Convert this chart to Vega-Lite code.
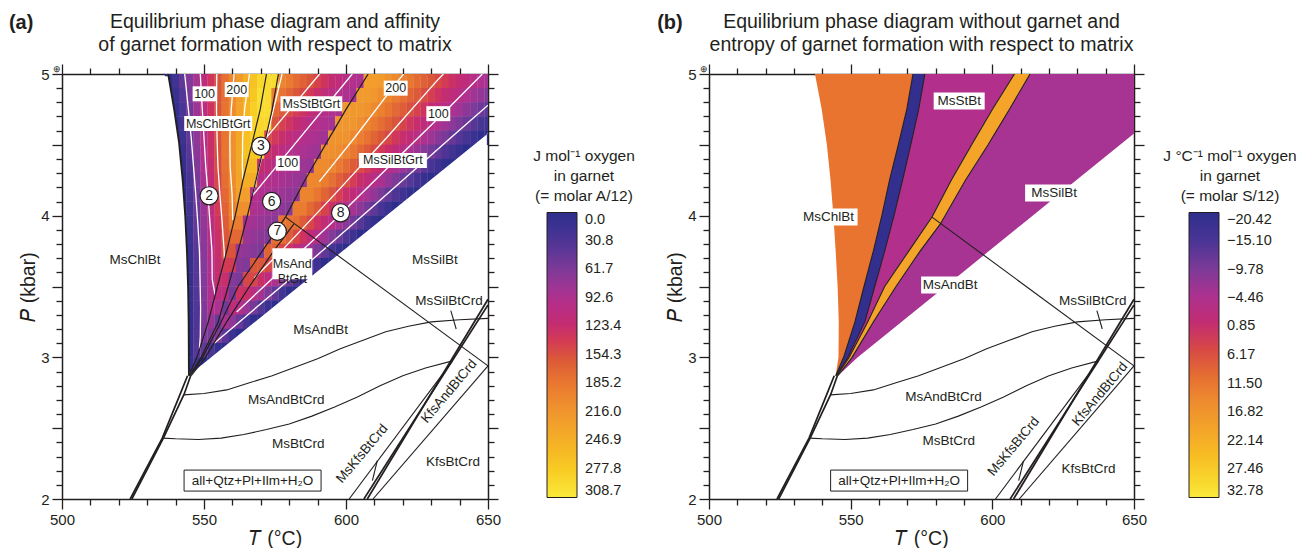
{
  "$schema": "https://vega.github.io/schema/vega-lite/v6.json",
  "padding": {"left": 8, "top": 12, "right": 2, "bottom": 0},
  "config": {
    "font": "Liberation Sans",
    "view": {"stroke": null},
    "axis": {"grid": false, "zindex": 1, "domainColor": "#231f20", "domainWidth": 1.5, "tickColor": "#231f20", "tickWidth": 1.3, "labelColor": "#231f20", "titleColor": "#231f20", "labelFont": "Liberation Sans", "titleFont": "Liberation Sans", "titleFontWeight": "normal", "labelFontSize": 15, "titleFontSize": 19.5, "labelFlush": false},
    "legend": {"labelFont": "Liberation Sans", "titleFont": "Liberation Sans", "labelColor": "#231f20", "titleColor": "#231f20"},
    "title": {"font": "Liberation Sans", "fontSize": 19.5, "fontWeight": "normal", "color": "#231f20", "lineHeight": 23, "offset": -43, "anchor": "middle"},
    "text": {"color": "#231f20", "font": "Liberation Sans"}
  },
  "datasets": {
    "heatA": [
      {"T":537.5,"P":4.95,"A":0},{"T":540,"P":4.95,"A":20},{"T":542.5,"P":4.95,"A":42},{"T":545,"P":4.95,"A":65},{"T":547.5,"P":4.95,"A":87},{"T":550,"P":4.95,"A":110},{"T":552.5,"P":4.95,"A":133},{"T":555,"P":4.95,"A":155},{"T":557.5,"P":4.95,"A":178},{"T":560,"P":4.95,"A":200},{"T":562.5,"P":4.95,"A":223},{"T":565,"P":4.95,"A":245},{"T":567.5,"P":4.95,"A":268},{"T":570,"P":4.95,"A":290},{"T":572.5,"P":4.95,"A":295},{"T":575,"P":4.95,"A":295},{"T":577.5,"P":4.95,"A":198},{"T":580,"P":4.95,"A":187},{"T":582.5,"P":4.95,"A":176},{"T":585,"P":4.95,"A":166},{"T":587.5,"P":4.95,"A":155},{"T":590,"P":4.95,"A":144},{"T":592.5,"P":4.95,"A":133},{"T":595,"P":4.95,"A":122},{"T":597.5,"P":4.95,"A":112},{"T":600,"P":4.95,"A":101},{"T":602.5,"P":4.95,"A":96},{"T":605,"P":4.95,"A":91},{"T":607.5,"P":4.95,"A":225},{"T":610,"P":4.95,"A":225},{"T":612.5,"P":4.95,"A":221},{"T":615,"P":4.95,"A":212},{"T":617.5,"P":4.95,"A":203},{"T":620,"P":4.95,"A":193},{"T":622.5,"P":4.95,"A":184},{"T":625,"P":4.95,"A":175},{"T":627.5,"P":4.95,"A":166},{"T":630,"P":4.95,"A":157},{"T":632.5,"P":4.95,"A":148},{"T":635,"P":4.95,"A":138},{"T":637.5,"P":4.95,"A":129},{"T":640,"P":4.95,"A":120},{"T":642.5,"P":4.95,"A":111},{"T":645,"P":4.95,"A":102},{"T":647.5,"P":4.95,"A":93},{"T":650,"P":4.95,"A":84},
      {"T":537.5,"P":4.85,"A":0},{"T":540,"P":4.85,"A":12},{"T":542.5,"P":4.85,"A":36},{"T":545,"P":4.85,"A":60},{"T":547.5,"P":4.85,"A":84},{"T":550,"P":4.85,"A":108},{"T":552.5,"P":4.85,"A":132},{"T":555,"P":4.85,"A":155},{"T":557.5,"P":4.85,"A":179},{"T":560,"P":4.85,"A":203},{"T":562.5,"P":4.85,"A":227},{"T":565,"P":4.85,"A":251},{"T":567.5,"P":4.85,"A":274},{"T":570,"P":4.85,"A":298},{"T":572.5,"P":4.85,"A":295},{"T":575,"P":4.85,"A":191},{"T":577.5,"P":4.85,"A":180},{"T":580,"P":4.85,"A":169},{"T":582.5,"P":4.85,"A":158},{"T":585,"P":4.85,"A":148},{"T":587.5,"P":4.85,"A":137},{"T":590,"P":4.85,"A":126},{"T":592.5,"P":4.85,"A":115},{"T":595,"P":4.85,"A":104},{"T":597.5,"P":4.85,"A":97},{"T":600,"P":4.85,"A":92},{"T":602.5,"P":4.85,"A":88},{"T":605,"P":4.85,"A":221},{"T":607.5,"P":4.85,"A":221},{"T":610,"P":4.85,"A":217},{"T":612.5,"P":4.85,"A":208},{"T":615,"P":4.85,"A":198},{"T":617.5,"P":4.85,"A":188},{"T":620,"P":4.85,"A":179},{"T":622.5,"P":4.85,"A":169},{"T":625,"P":4.85,"A":160},{"T":627.5,"P":4.85,"A":150},{"T":630,"P":4.85,"A":141},{"T":632.5,"P":4.85,"A":131},{"T":635,"P":4.85,"A":121},{"T":637.5,"P":4.85,"A":112},{"T":640,"P":4.85,"A":102},{"T":642.5,"P":4.85,"A":93},{"T":645,"P":4.85,"A":83},{"T":647.5,"P":4.85,"A":74},{"T":650,"P":4.85,"A":64},
      {"T":540,"P":4.75,"A":5},{"T":542.5,"P":4.75,"A":30},{"T":545,"P":4.75,"A":55},{"T":547.5,"P":4.75,"A":81},{"T":550,"P":4.75,"A":106},{"T":552.5,"P":4.75,"A":131},{"T":555,"P":4.75,"A":156},{"T":557.5,"P":4.75,"A":181},{"T":560,"P":4.75,"A":206},{"T":562.5,"P":4.75,"A":232},{"T":565,"P":4.75,"A":257},{"T":567.5,"P":4.75,"A":282},{"T":570,"P":4.75,"A":295},{"T":572.5,"P":4.75,"A":295},{"T":575,"P":4.75,"A":173},{"T":577.5,"P":4.75,"A":162},{"T":580,"P":4.75,"A":151},{"T":582.5,"P":4.75,"A":140},{"T":585,"P":4.75,"A":130},{"T":587.5,"P":4.75,"A":119},{"T":590,"P":4.75,"A":108},{"T":592.5,"P":4.75,"A":99},{"T":595,"P":4.75,"A":94},{"T":597.5,"P":4.75,"A":89},{"T":600,"P":4.75,"A":219},{"T":602.5,"P":4.75,"A":219},{"T":605,"P":4.75,"A":219},{"T":607.5,"P":4.75,"A":213},{"T":610,"P":4.75,"A":203},{"T":612.5,"P":4.75,"A":193},{"T":615,"P":4.75,"A":183},{"T":617.5,"P":4.75,"A":173},{"T":620,"P":4.75,"A":163},{"T":622.5,"P":4.75,"A":153},{"T":625,"P":4.75,"A":143},{"T":627.5,"P":4.75,"A":133},{"T":630,"P":4.75,"A":122},{"T":632.5,"P":4.75,"A":112},{"T":635,"P":4.75,"A":102},{"T":637.5,"P":4.75,"A":92},{"T":640,"P":4.75,"A":82},{"T":642.5,"P":4.75,"A":72},{"T":645,"P":4.75,"A":62},{"T":647.5,"P":4.75,"A":52},{"T":650,"P":4.75,"A":42},
      {"T":540,"P":4.65,"A":2},{"T":542.5,"P":4.65,"A":24},{"T":545,"P":4.65,"A":50},{"T":547.5,"P":4.65,"A":77},{"T":550,"P":4.65,"A":103},{"T":552.5,"P":4.65,"A":129},{"T":555,"P":4.65,"A":155},{"T":557.5,"P":4.65,"A":181},{"T":560,"P":4.65,"A":208},{"T":562.5,"P":4.65,"A":234},{"T":565,"P":4.65,"A":260},{"T":567.5,"P":4.65,"A":286},{"T":570,"P":4.65,"A":290},{"T":572.5,"P":4.65,"A":290},{"T":575,"P":4.65,"A":155},{"T":577.5,"P":4.65,"A":144},{"T":580,"P":4.65,"A":133},{"T":582.5,"P":4.65,"A":122},{"T":585,"P":4.65,"A":112},{"T":587.5,"P":4.65,"A":101},{"T":590,"P":4.65,"A":96},{"T":592.5,"P":4.65,"A":91},{"T":595,"P":4.65,"A":86},{"T":597.5,"P":4.65,"A":216},{"T":600,"P":4.65,"A":216},{"T":602.5,"P":4.65,"A":216},{"T":605,"P":4.65,"A":208},{"T":607.5,"P":4.65,"A":197},{"T":610,"P":4.65,"A":187},{"T":612.5,"P":4.65,"A":176},{"T":615,"P":4.65,"A":166},{"T":617.5,"P":4.65,"A":155},{"T":620,"P":4.65,"A":145},{"T":622.5,"P":4.65,"A":134},{"T":625,"P":4.65,"A":124},{"T":627.5,"P":4.65,"A":113},{"T":630,"P":4.65,"A":103},{"T":632.5,"P":4.65,"A":92},{"T":635,"P":4.65,"A":81},{"T":637.5,"P":4.65,"A":71},{"T":640,"P":4.65,"A":60},{"T":642.5,"P":4.65,"A":50},{"T":645,"P":4.65,"A":39},{"T":647.5,"P":4.65,"A":29},{"T":650,"P":4.65,"A":18},
      {"T":540,"P":4.55,"A":0},{"T":542.5,"P":4.55,"A":17},{"T":545,"P":4.55,"A":44},{"T":547.5,"P":4.55,"A":72},{"T":550,"P":4.55,"A":100},{"T":552.5,"P":4.55,"A":127},{"T":555,"P":4.55,"A":155},{"T":557.5,"P":4.55,"A":182},{"T":560,"P":4.55,"A":210},{"T":562.5,"P":4.55,"A":238},{"T":565,"P":4.55,"A":265},{"T":567.5,"P":4.55,"A":285},{"T":570,"P":4.55,"A":285},{"T":572.5,"P":4.55,"A":148},{"T":575,"P":4.55,"A":137},{"T":577.5,"P":4.55,"A":126},{"T":580,"P":4.55,"A":115},{"T":582.5,"P":4.55,"A":104},{"T":585,"P":4.55,"A":97},{"T":587.5,"P":4.55,"A":92},{"T":590,"P":4.55,"A":88},{"T":592.5,"P":4.55,"A":83},{"T":595,"P":4.55,"A":213},{"T":597.5,"P":4.55,"A":213},{"T":600,"P":4.55,"A":213},{"T":602.5,"P":4.55,"A":202},{"T":605,"P":4.55,"A":191},{"T":607.5,"P":4.55,"A":180},{"T":610,"P":4.55,"A":169},{"T":612.5,"P":4.55,"A":158},{"T":615,"P":4.55,"A":147},{"T":617.5,"P":4.55,"A":136},{"T":620,"P":4.55,"A":125},{"T":622.5,"P":4.55,"A":114},{"T":625,"P":4.55,"A":103},{"T":627.5,"P":4.55,"A":92},{"T":630,"P":4.55,"A":81},{"T":632.5,"P":4.55,"A":69},{"T":635,"P":4.55,"A":58},{"T":637.5,"P":4.55,"A":47},{"T":640,"P":4.55,"A":36},{"T":642.5,"P":4.55,"A":25},{"T":645,"P":4.55,"A":14},{"T":647.5,"P":4.55,"A":3},{"T":650,"P":4.55,"A":0},
      {"T":542.5,"P":4.45,"A":11},{"T":545,"P":4.45,"A":40},{"T":547.5,"P":4.45,"A":69},{"T":550,"P":4.45,"A":97},{"T":552.5,"P":4.45,"A":126},{"T":555,"P":4.45,"A":154},{"T":557.5,"P":4.45,"A":183},{"T":560,"P":4.45,"A":211},{"T":562.5,"P":4.45,"A":240},{"T":565,"P":4.45,"A":268},{"T":567.5,"P":4.45,"A":275},{"T":570,"P":4.45,"A":275},{"T":572.5,"P":4.45,"A":130},{"T":575,"P":4.45,"A":119},{"T":577.5,"P":4.45,"A":108},{"T":580,"P":4.45,"A":99},{"T":582.5,"P":4.45,"A":94},{"T":585,"P":4.45,"A":89},{"T":587.5,"P":4.45,"A":84},{"T":590,"P":4.45,"A":80},{"T":592.5,"P":4.45,"A":210},{"T":595,"P":4.45,"A":210},{"T":597.5,"P":4.45,"A":207},{"T":600,"P":4.45,"A":195},{"T":602.5,"P":4.45,"A":184},{"T":605,"P":4.45,"A":172},{"T":607.5,"P":4.45,"A":160},{"T":610,"P":4.45,"A":149},{"T":612.5,"P":4.45,"A":137},{"T":615,"P":4.45,"A":126},{"T":617.5,"P":4.45,"A":114},{"T":620,"P":4.45,"A":102},{"T":622.5,"P":4.45,"A":91},{"T":625,"P":4.45,"A":79},{"T":627.5,"P":4.45,"A":67},{"T":630,"P":4.45,"A":56},{"T":632.5,"P":4.45,"A":44},{"T":635,"P":4.45,"A":33},{"T":637.5,"P":4.45,"A":21},{"T":640,"P":4.45,"A":9},{"T":642.5,"P":4.45,"A":0},{"T":645,"P":4.45,"A":0},
      {"T":542.5,"P":4.35,"A":6},{"T":545,"P":4.35,"A":35},{"T":547.5,"P":4.35,"A":64},{"T":550,"P":4.35,"A":93},{"T":552.5,"P":4.35,"A":122},{"T":555,"P":4.35,"A":151},{"T":557.5,"P":4.35,"A":180},{"T":560,"P":4.35,"A":209},{"T":562.5,"P":4.35,"A":238},{"T":565,"P":4.35,"A":260},{"T":567.5,"P":4.35,"A":260},{"T":570,"P":4.35,"A":122},{"T":572.5,"P":4.35,"A":112},{"T":575,"P":4.35,"A":101},{"T":577.5,"P":4.35,"A":96},{"T":580,"P":4.35,"A":91},{"T":582.5,"P":4.35,"A":86},{"T":585,"P":4.35,"A":81},{"T":587.5,"P":4.35,"A":76},{"T":590,"P":4.35,"A":205},{"T":592.5,"P":4.35,"A":205},{"T":595,"P":4.35,"A":199},{"T":597.5,"P":4.35,"A":187},{"T":600,"P":4.35,"A":175},{"T":602.5,"P":4.35,"A":162},{"T":605,"P":4.35,"A":150},{"T":607.5,"P":4.35,"A":138},{"T":610,"P":4.35,"A":126},{"T":612.5,"P":4.35,"A":114},{"T":615,"P":4.35,"A":101},{"T":617.5,"P":4.35,"A":89},{"T":620,"P":4.35,"A":77},{"T":622.5,"P":4.35,"A":65},{"T":625,"P":4.35,"A":53},{"T":627.5,"P":4.35,"A":40},{"T":630,"P":4.35,"A":28},{"T":632.5,"P":4.35,"A":16},{"T":635,"P":4.35,"A":4},{"T":637.5,"P":4.35,"A":0},{"T":640,"P":4.35,"A":0},
      {"T":542.5,"P":4.25,"A":2},{"T":545,"P":4.25,"A":29},{"T":547.5,"P":4.25,"A":59},{"T":550,"P":4.25,"A":88},{"T":552.5,"P":4.25,"A":118},{"T":555,"P":4.25,"A":147},{"T":557.5,"P":4.25,"A":177},{"T":560,"P":4.25,"A":206},{"T":562.5,"P":4.25,"A":236},{"T":565,"P":4.25,"A":245},{"T":567.5,"P":4.25,"A":245},{"T":570,"P":4.25,"A":104},{"T":572.5,"P":4.25,"A":97},{"T":575,"P":4.25,"A":92},{"T":577.5,"P":4.25,"A":88},{"T":580,"P":4.25,"A":83},{"T":582.5,"P":4.25,"A":78},{"T":585,"P":4.25,"A":73},{"T":587.5,"P":4.25,"A":202},{"T":590,"P":4.25,"A":202},{"T":592.5,"P":4.25,"A":191},{"T":595,"P":4.25,"A":178},{"T":597.5,"P":4.25,"A":165},{"T":600,"P":4.25,"A":153},{"T":602.5,"P":4.25,"A":140},{"T":605,"P":4.25,"A":127},{"T":607.5,"P":4.25,"A":114},{"T":610,"P":4.25,"A":101},{"T":612.5,"P":4.25,"A":88},{"T":615,"P":4.25,"A":75},{"T":617.5,"P":4.25,"A":62},{"T":620,"P":4.25,"A":49},{"T":622.5,"P":4.25,"A":37},{"T":625,"P":4.25,"A":24},{"T":627.5,"P":4.25,"A":11},{"T":630,"P":4.25,"A":0},{"T":632.5,"P":4.25,"A":0},
      {"T":542.5,"P":4.15,"A":0},{"T":545,"P":4.15,"A":25},{"T":547.5,"P":4.15,"A":54},{"T":550,"P":4.15,"A":84},{"T":552.5,"P":4.15,"A":113},{"T":555,"P":4.15,"A":143},{"T":557.5,"P":4.15,"A":172},{"T":560,"P":4.15,"A":201},{"T":562.5,"P":4.15,"A":231},{"T":565,"P":4.15,"A":225},{"T":567.5,"P":4.15,"A":99},{"T":570,"P":4.15,"A":94},{"T":572.5,"P":4.15,"A":89},{"T":575,"P":4.15,"A":84},{"T":577.5,"P":4.15,"A":80},{"T":580,"P":4.15,"A":75},{"T":582.5,"P":4.15,"A":70},{"T":585,"P":4.15,"A":196},{"T":587.5,"P":4.15,"A":196},{"T":590,"P":4.15,"A":183},{"T":592.5,"P":4.15,"A":169},{"T":595,"P":4.15,"A":156},{"T":597.5,"P":4.15,"A":142},{"T":600,"P":4.15,"A":128},{"T":602.5,"P":4.15,"A":115},{"T":605,"P":4.15,"A":101},{"T":607.5,"P":4.15,"A":87},{"T":610,"P":4.15,"A":74},{"T":612.5,"P":4.15,"A":60},{"T":615,"P":4.15,"A":46},{"T":617.5,"P":4.15,"A":33},{"T":620,"P":4.15,"A":19},{"T":622.5,"P":4.15,"A":5},{"T":625,"P":4.15,"A":0},{"T":627.5,"P":4.15,"A":0},
      {"T":542.5,"P":4.05,"A":0},{"T":545,"P":4.05,"A":21},{"T":547.5,"P":4.05,"A":50},{"T":550,"P":4.05,"A":79},{"T":552.5,"P":4.05,"A":109},{"T":555,"P":4.05,"A":138},{"T":557.5,"P":4.05,"A":167},{"T":560,"P":4.05,"A":196},{"T":562.5,"P":4.05,"A":210},{"T":565,"P":4.05,"A":210},{"T":567.5,"P":4.05,"A":91},{"T":570,"P":4.05,"A":86},{"T":572.5,"P":4.05,"A":81},{"T":575,"P":4.05,"A":76},{"T":577.5,"P":4.05,"A":72},{"T":580,"P":4.05,"A":67},{"T":582.5,"P":4.05,"A":189},{"T":585,"P":4.05,"A":188},{"T":587.5,"P":4.05,"A":173},{"T":590,"P":4.05,"A":159},{"T":592.5,"P":4.05,"A":144},{"T":595,"P":4.05,"A":130},{"T":597.5,"P":4.05,"A":115},{"T":600,"P":4.05,"A":101},{"T":602.5,"P":4.05,"A":86},{"T":605,"P":4.05,"A":72},{"T":607.5,"P":4.05,"A":57},{"T":610,"P":4.05,"A":42},{"T":612.5,"P":4.05,"A":28},{"T":615,"P":4.05,"A":13},{"T":617.5,"P":4.05,"A":0},{"T":620,"P":4.05,"A":0},
      {"T":542.5,"P":3.95,"A":0},{"T":545,"P":3.95,"A":17},{"T":547.5,"P":3.95,"A":46},{"T":550,"P":3.95,"A":75},{"T":552.5,"P":3.95,"A":104},{"T":555,"P":3.95,"A":133},{"T":557.5,"P":3.95,"A":162},{"T":560,"P":3.95,"A":191},{"T":562.5,"P":3.95,"A":190},{"T":565,"P":3.95,"A":88},{"T":567.5,"P":3.95,"A":83},{"T":570,"P":3.95,"A":78},{"T":572.5,"P":3.95,"A":73},{"T":575,"P":3.95,"A":68},{"T":577.5,"P":3.95,"A":181},{"T":580,"P":3.95,"A":181},{"T":582.5,"P":3.95,"A":178},{"T":585,"P":3.95,"A":162},{"T":587.5,"P":3.95,"A":147},{"T":590,"P":3.95,"A":131},{"T":592.5,"P":3.95,"A":116},{"T":595,"P":3.95,"A":100},{"T":597.5,"P":3.95,"A":84},{"T":600,"P":3.95,"A":69},{"T":602.5,"P":3.95,"A":53},{"T":605,"P":3.95,"A":38},{"T":607.5,"P":3.95,"A":22},{"T":610,"P":3.95,"A":7},{"T":612.5,"P":3.95,"A":0},{"T":615,"P":3.95,"A":0},
      {"T":542.5,"P":3.85,"A":0},{"T":545,"P":3.85,"A":14},{"T":547.5,"P":3.85,"A":43},{"T":550,"P":3.85,"A":72},{"T":552.5,"P":3.85,"A":101},{"T":555,"P":3.85,"A":129},{"T":557.5,"P":3.85,"A":158},{"T":560,"P":3.85,"A":172},{"T":562.5,"P":3.85,"A":172},{"T":565,"P":3.85,"A":80},{"T":567.5,"P":3.85,"A":75},{"T":570,"P":3.85,"A":70},{"T":572.5,"P":3.85,"A":65},{"T":575,"P":3.85,"A":176},{"T":577.5,"P":3.85,"A":176},{"T":580,"P":3.85,"A":164},{"T":582.5,"P":3.85,"A":148},{"T":585,"P":3.85,"A":132},{"T":587.5,"P":3.85,"A":115},{"T":590,"P":3.85,"A":99},{"T":592.5,"P":3.85,"A":82},{"T":595,"P":3.85,"A":66},{"T":597.5,"P":3.85,"A":49},{"T":600,"P":3.85,"A":33},{"T":602.5,"P":3.85,"A":16},{"T":605,"P":3.85,"A":0},{"T":607.5,"P":3.85,"A":0},
      {"T":545,"P":3.75,"A":11},{"T":547.5,"P":3.75,"A":40},{"T":550,"P":3.75,"A":69},{"T":552.5,"P":3.75,"A":97},{"T":555,"P":3.75,"A":126},{"T":557.5,"P":3.75,"A":154},{"T":560,"P":3.75,"A":155},{"T":562.5,"P":3.75,"A":76},{"T":565,"P":3.75,"A":72},{"T":567.5,"P":3.75,"A":67},{"T":570,"P":3.75,"A":62},{"T":572.5,"P":3.75,"A":169},{"T":575,"P":3.75,"A":165},{"T":577.5,"P":3.75,"A":148},{"T":580,"P":3.75,"A":131},{"T":582.5,"P":3.75,"A":113},{"T":585,"P":3.75,"A":96},{"T":587.5,"P":3.75,"A":78},{"T":590,"P":3.75,"A":61},{"T":592.5,"P":3.75,"A":44},{"T":595,"P":3.75,"A":26},{"T":597.5,"P":3.75,"A":9},{"T":600,"P":3.75,"A":0},{"T":602.5,"P":3.75,"A":0},
      {"T":545,"P":3.65,"A":9},{"T":547.5,"P":3.65,"A":37},{"T":550,"P":3.65,"A":66},{"T":552.5,"P":3.65,"A":94},{"T":555,"P":3.65,"A":123},{"T":557.5,"P":3.65,"A":138},{"T":560,"P":3.65,"A":138},{"T":562.5,"P":3.65,"A":68},{"T":565,"P":3.65,"A":64},{"T":567.5,"P":3.65,"A":158},{"T":570,"P":3.65,"A":158},{"T":572.5,"P":3.65,"A":148},{"T":575,"P":3.65,"A":129},{"T":577.5,"P":3.65,"A":111},{"T":580,"P":3.65,"A":93},{"T":582.5,"P":3.65,"A":74},{"T":585,"P":3.65,"A":56},{"T":587.5,"P":3.65,"A":38},{"T":590,"P":3.65,"A":19},{"T":592.5,"P":3.65,"A":0},{"T":595,"P":3.65,"A":0},
      {"T":545,"P":3.55,"A":8},{"T":547.5,"P":3.55,"A":37},{"T":550,"P":3.55,"A":66},{"T":552.5,"P":3.55,"A":95},{"T":555,"P":3.55,"A":124},{"T":557.5,"P":3.55,"A":125},{"T":560,"P":3.55,"A":65},{"T":562.5,"P":3.55,"A":60},{"T":565,"P":3.55,"A":147},{"T":567.5,"P":3.55,"A":147},{"T":570,"P":3.55,"A":129},{"T":572.5,"P":3.55,"A":109},{"T":575,"P":3.55,"A":90},{"T":577.5,"P":3.55,"A":70},{"T":580,"P":3.55,"A":51},{"T":582.5,"P":3.55,"A":31},{"T":585,"P":3.55,"A":12},{"T":587.5,"P":3.55,"A":0},{"T":590,"P":3.55,"A":0},
      {"T":545,"P":3.45,"A":7},{"T":547.5,"P":3.45,"A":36},{"T":550,"P":3.45,"A":65},{"T":552.5,"P":3.45,"A":94},{"T":555,"P":3.45,"A":108},{"T":557.5,"P":3.45,"A":108},{"T":560,"P":3.45,"A":57},{"T":562.5,"P":3.45,"A":131},{"T":565,"P":3.45,"A":126},{"T":567.5,"P":3.45,"A":106},{"T":570,"P":3.45,"A":85},{"T":572.5,"P":3.45,"A":64},{"T":575,"P":3.45,"A":44},{"T":577.5,"P":3.45,"A":23},{"T":580,"P":3.45,"A":2},{"T":582.5,"P":3.45,"A":0},
      {"T":545,"P":3.35,"A":6},{"T":547.5,"P":3.35,"A":35},{"T":550,"P":3.35,"A":64},{"T":552.5,"P":3.35,"A":93},{"T":555,"P":3.35,"A":92},{"T":557.5,"P":3.35,"A":54},{"T":560,"P":3.35,"A":111},{"T":562.5,"P":3.35,"A":100},{"T":565,"P":3.35,"A":78},{"T":567.5,"P":3.35,"A":57},{"T":570,"P":3.35,"A":35},{"T":572.5,"P":3.35,"A":14},{"T":575,"P":3.35,"A":0},{"T":577.5,"P":3.35,"A":0},
      {"T":545,"P":3.25,"A":5},{"T":547.5,"P":3.25,"A":34},{"T":550,"P":3.25,"A":63},{"T":552.5,"P":3.25,"A":78},{"T":555,"P":3.25,"A":49},{"T":557.5,"P":3.25,"A":90},{"T":560,"P":3.25,"A":72},{"T":562.5,"P":3.25,"A":49},{"T":565,"P":3.25,"A":26},{"T":567.5,"P":3.25,"A":4},{"T":570,"P":3.25,"A":0},
      {"T":545,"P":3.15,"A":5},{"T":547.5,"P":3.15,"A":35},{"T":550,"P":3.15,"A":60},{"T":552.5,"P":3.15,"A":60},{"T":555,"P":3.15,"A":65},{"T":557.5,"P":3.15,"A":41},{"T":560,"P":3.15,"A":17},{"T":562.5,"P":3.15,"A":0},{"T":565,"P":3.15,"A":0},
      {"T":545,"P":3.05,"A":4},{"T":547.5,"P":3.05,"A":37},{"T":550,"P":3.05,"A":45},{"T":552.5,"P":3.05,"A":31},{"T":555,"P":3.05,"A":6},{"T":557.5,"P":3.05,"A":0},
      {"T":545,"P":2.95,"A":6},{"T":547.5,"P":2.95,"A":20},{"T":550,"P":2.95,"A":0},{"T":552.5,"P":2.95,"A":0}
    ],
    "outsideA": [
      {"id":"right","P":2.87,"Tl":544.5,"Tr":649.6},{"id":"right","P":4.58,"Tl":650,"Tr":649.6},
      {"id":"left","P":2.87,"Tl":520,"Tr":544.7},{"id":"left","P":3.25,"Tl":520,"Tr":544.6},{"id":"left","P":3.5,"Tl":520,"Tr":544.4},{"id":"left","P":3.75,"Tl":520,"Tr":544},{"id":"left","P":4.0,"Tl":520,"Tr":543.4},{"id":"left","P":4.25,"Tl":520,"Tr":542.5},{"id":"left","P":4.52,"Tl":520,"Tr":541.2},{"id":"left","P":4.75,"Tl":520,"Tr":539.5},{"id":"left","P":4.985,"Tl":520,"Tr":537.5}
    ],
    "regionsB": [
      {"id":"chl","S":11,"P":2.87,"Tl":544.7,"Tr":544.7},{"id":"chl","S":11,"P":3.0,"Tl":545.7,"Tr":547.5},{"id":"chl","S":11,"P":3.25,"Tl":545.8,"Tr":551.5},{"id":"chl","S":11,"P":3.5,"Tl":545.4,"Tr":554.7},{"id":"chl","S":11,"P":3.75,"Tl":544.7,"Tr":558},{"id":"chl","S":11,"P":4.0,"Tl":543.9,"Tr":561},{"id":"chl","S":11,"P":4.25,"Tl":542.9,"Tr":563.7},{"id":"chl","S":11,"P":4.5,"Tl":541.6,"Tr":566.8},{"id":"chl","S":11,"P":4.75,"Tl":539.8,"Tr":569.8},{"id":"chl","S":11,"P":5.0,"Tl":537.4,"Tr":572},
      {"id":"chlout","S":-19.5,"P":2.87,"Tl":544.7,"Tr":544.9},{"id":"chlout","S":-19.5,"P":3.0,"Tl":547.5,"Tr":549},{"id":"chlout","S":-19.5,"P":3.25,"Tl":551.5,"Tr":555},{"id":"chlout","S":-19.5,"P":3.5,"Tl":554.7,"Tr":558.5},{"id":"chlout","S":-19.5,"P":3.75,"Tl":558,"Tr":562},{"id":"chlout","S":-19.5,"P":4.0,"Tl":561,"Tr":565.3},{"id":"chlout","S":-19.5,"P":4.25,"Tl":563.7,"Tr":568.3},{"id":"chlout","S":-19.5,"P":4.5,"Tl":566.8,"Tr":571.2},{"id":"chlout","S":-19.5,"P":4.75,"Tl":569.8,"Tr":574},{"id":"chlout","S":-19.5,"P":5.0,"Tl":572,"Tr":576.2},
      {"id":"st","S":-4,"P":2.87,"Tl":544.9,"Tr":545.2},{"id":"st","S":-4,"P":3.0,"Tl":549,"Tr":549.5},{"id":"st","S":-4,"P":3.25,"Tl":555,"Tr":556},{"id":"st","S":-4,"P":3.5,"Tl":558.5,"Tr":562},{"id":"st","S":-4,"P":3.75,"Tl":562,"Tr":570.5},{"id":"st","S":-4,"P":3.99,"Tl":565.2,"Tr":578.7},{"id":"st","S":-4,"P":4.25,"Tl":568.3,"Tr":585.5},{"id":"st","S":-4,"P":4.5,"Tl":571.2,"Tr":592.7},{"id":"st","S":-4,"P":4.75,"Tl":574,"Tr":600},{"id":"st","S":-4,"P":5.0,"Tl":576.2,"Tr":607.8},
      {"id":"stout","S":20,"P":2.87,"Tl":545.2,"Tr":545.5},{"id":"stout","S":20,"P":3.0,"Tl":549.5,"Tr":550.5},{"id":"stout","S":20,"P":3.25,"Tl":556,"Tr":558},{"id":"stout","S":20,"P":3.5,"Tl":562,"Tr":566},{"id":"stout","S":20,"P":3.75,"Tl":570.5,"Tr":574.5},{"id":"stout","S":20,"P":3.94,"Tl":577,"Tr":581.6},{"id":"stout","S":20,"P":3.99,"Tl":578.7,"Tr":582.9},{"id":"stout","S":20,"P":4.25,"Tl":585.5,"Tr":590.5},{"id":"stout","S":20,"P":4.5,"Tl":592.7,"Tr":598.5},{"id":"stout","S":20,"P":4.75,"Tl":600,"Tr":606},{"id":"stout","S":20,"P":5.0,"Tl":607.8,"Tr":613.3},
      {"id":"sil","S":-5.5,"P":2.87,"Tl":545.5,"Tr":545.5},{"id":"sil","S":-5.5,"P":3.0,"Tl":550.5,"Tr":552.5},{"id":"sil","S":-5.5,"P":3.25,"Tl":558,"Tr":567.9},{"id":"sil","S":-5.5,"P":3.5,"Tl":566,"Tr":583.4},{"id":"sil","S":-5.5,"P":3.75,"Tl":574.5,"Tr":598.8},{"id":"sil","S":-5.5,"P":3.94,"Tl":581.6,"Tr":610.5},{"id":"sil","S":-5.5,"P":4.0,"Tl":583.3,"Tr":614.2},{"id":"sil","S":-5.5,"P":4.25,"Tl":590.5,"Tr":629.6},{"id":"sil","S":-5.5,"P":4.5,"Tl":598.5,"Tr":645.1},{"id":"sil","S":-5.5,"P":4.58,"Tl":600.7,"Tr":650},{"id":"sil","S":-5.5,"P":4.75,"Tl":606,"Tr":650},{"id":"sil","S":-5.5,"P":5.0,"Tl":613.3,"Tr":650}
    ],
    "thinLines": [
      {"id":"Crd2","T":535.4,"P":2.43},{"id":"Crd2","T":540,"P":2.425},{"id":"Crd2","T":548,"P":2.42},{"id":"Crd2","T":556,"P":2.43},{"id":"Crd2","T":564,"P":2.455},{"id":"Crd2","T":572,"P":2.49},{"id":"Crd2","T":580,"P":2.53},{"id":"Crd2","T":588,"P":2.585},{"id":"Crd2","T":596,"P":2.65},{"id":"Crd2","T":604,"P":2.72},{"id":"Crd2","T":612,"P":2.8},{"id":"Crd2","T":620,"P":2.87},{"id":"Crd2","T":628,"P":2.925},{"id":"Crd2","T":637.5,"P":2.975},
      {"id":"Crd1","T":542.8,"P":2.735},{"id":"Crd1","T":550,"P":2.745},{"id":"Crd1","T":558,"P":2.77},{"id":"Crd1","T":566,"P":2.82},{"id":"Crd1","T":574,"P":2.87},{"id":"Crd1","T":582,"P":2.93},{"id":"Crd1","T":590,"P":2.99},{"id":"Crd1","T":598,"P":3.06},{"id":"Crd1","T":606,"P":3.12},{"id":"Crd1","T":614,"P":3.18},{"id":"Crd1","T":622,"P":3.22},{"id":"Crd1","T":630,"P":3.25},{"id":"Crd1","T":640,"P":3.265},{"id":"Crd1","T":650,"P":3.275},
      {"id":"AndSil","T":578.7,"P":3.99},{"id":"AndSil","T":650,"P":2.94},
      {"id":"KfsL","T":601.1,"P":2},{"id":"KfsL","T":637.5,"P":2.975},
      {"id":"KfsR","T":609.5,"P":2},{"id":"KfsR","T":650,"P":2.94},
      {"id":"tick1","T":636.9,"P":3.33},{"id":"tick1","T":638.8,"P":3.2},
      {"id":"tick2","T":611,"P":2.27},{"id":"tick2","T":609.3,"P":2.13}
    ],
    "thickLines": [
      {"id":"L1a","T":524,"P":2},{"id":"L1a","T":535.3,"P":2.43},{"id":"L1a","T":541.6,"P":2.74},{"id":"L1a","T":544.2,"P":2.87},
      {"id":"L1b","T":524.6,"P":2},{"id":"L1b","T":535.7,"P":2.43},{"id":"L1b","T":543,"P":2.74},{"id":"L1b","T":545.3,"P":2.87},
      {"id":"MsOut1","T":606.3,"P":2},{"id":"MsOut1","T":650,"P":3.37},
      {"id":"MsOut2","T":607.5,"P":2},{"id":"MsOut2","T":650,"P":3.41}
    ],
    "garnetLines": [
      {"id":"gin","T":537.4,"P":5},{"id":"gin","T":539.5,"P":4.75},{"id":"gin","T":541.2,"P":4.52},{"id":"gin","T":542.5,"P":4.25},{"id":"gin","T":543.4,"P":4.0},{"id":"gin","T":544,"P":3.75},{"id":"gin","T":544.4,"P":3.5},{"id":"gin","T":544.6,"P":3.25},{"id":"gin","T":544.7,"P":2.87},
      {"id":"C1","T":544.7,"P":2.87},{"id":"C1","T":547.5,"P":3.0},{"id":"C1","T":551.5,"P":3.25},{"id":"C1","T":554.7,"P":3.5},{"id":"C1","T":558,"P":3.75},{"id":"C1","T":561,"P":4.0},{"id":"C1","T":563.7,"P":4.25},{"id":"C1","T":566.8,"P":4.5},{"id":"C1","T":569.8,"P":4.75},{"id":"C1","T":572,"P":5},
      {"id":"C2","T":544.9,"P":2.87},{"id":"C2","T":549,"P":3.0},{"id":"C2","T":555,"P":3.25},{"id":"C2","T":558.5,"P":3.5},{"id":"C2","T":562,"P":3.75},{"id":"C2","T":565.3,"P":4.0},{"id":"C2","T":568.3,"P":4.25},{"id":"C2","T":571.2,"P":4.5},{"id":"C2","T":574,"P":4.75},{"id":"C2","T":576.2,"P":5},
      {"id":"S1","T":545.2,"P":2.87},{"id":"S1","T":549.5,"P":3.0},{"id":"S1","T":556,"P":3.25},{"id":"S1","T":562,"P":3.5},{"id":"S1","T":570.5,"P":3.75},{"id":"S1","T":578.7,"P":3.99},{"id":"S1","T":585.5,"P":4.25},{"id":"S1","T":592.7,"P":4.5},{"id":"S1","T":600,"P":4.75},{"id":"S1","T":607.8,"P":5},
      {"id":"S2","T":545.5,"P":2.87},{"id":"S2","T":550.5,"P":3.0},{"id":"S2","T":558,"P":3.25},{"id":"S2","T":566,"P":3.5},{"id":"S2","T":574.5,"P":3.75},{"id":"S2","T":581.6,"P":3.94},{"id":"S2","T":583.3,"P":4.0},{"id":"S2","T":590.5,"P":4.25},{"id":"S2","T":598.5,"P":4.5},{"id":"S2","T":606,"P":4.75},{"id":"S2","T":613.3,"P":5}
    ],
    "contoursA": [
      {"id":"r1c50","T":543.2,"P":5},{"id":"r1c50","T":544.5,"P":4.75},{"id":"r1c50","T":545.5,"P":4.55},{"id":"r1c50","T":546.3,"P":4.35},{"id":"r1c50","T":547.1,"P":4.15},{"id":"r1c50","T":547.8,"P":3.95},{"id":"r1c50","T":548.4,"P":3.75},{"id":"r1c50","T":548.6,"P":3.55},{"id":"r1c50","T":548.8,"P":3.35},{"id":"r1c50","T":548.7,"P":3.15},{"id":"r1c50","T":548.4,"P":3.06},
      {"id":"r1c100","T":548.7,"P":5},{"id":"r1c100","T":549.4,"P":4.75},{"id":"r1c100","T":550,"P":4.55},{"id":"r1c100","T":550.6,"P":4.35},{"id":"r1c100","T":551.4,"P":4.15},{"id":"r1c100","T":552.1,"P":3.95},{"id":"r1c100","T":552.8,"P":3.75},{"id":"r1c100","T":552.9,"P":3.55},{"id":"r1c100","T":553.9,"P":3.44},
      {"id":"r1c150","T":554.5,"P":5},{"id":"r1c150","T":554.4,"P":4.75},{"id":"r1c150","T":554.6,"P":4.55},{"id":"r1c150","T":554.9,"P":4.35},{"id":"r1c150","T":555.6,"P":4.15},{"id":"r1c150","T":556.4,"P":3.95},{"id":"r1c150","T":557.1,"P":3.75},{"id":"r1c150","T":557.2,"P":3.69},
      {"id":"r1c200","T":560.6,"P":5},{"id":"r1c200","T":559.6,"P":4.75},{"id":"r1c200","T":559.1,"P":4.55},{"id":"r1c200","T":559.2,"P":4.35},{"id":"r1c200","T":559.9,"P":4.15},{"id":"r1c200","T":560.1,"P":3.97},
      {"id":"r1c250","T":566,"P":5},{"id":"r1c250","T":564.3,"P":4.75},{"id":"r1c250","T":563.6,"P":4.55},{"id":"r1c250","T":563.5,"P":4.35},{"id":"r1c250","T":563.7,"P":4.25},
      {"id":"r3c100","T":577.5,"P":5},{"id":"r3c100","T":567,"P":4.14},{"id":"r3c100","T":602.2,"P":5},
      {"id":"r3c150","T":571.5,"P":4.54},{"id":"r3c150","T":590.7,"P":5},
      {"id":"r5c50","T":553.6,"P":3.1},{"id":"r5c50","T":580.1,"P":3.55},{"id":"r5c50","T":608.7,"P":4.05},{"id":"r5c50","T":636.9,"P":4.55},{"id":"r5c50","T":650,"P":4.78},
      {"id":"r5c100","T":561.5,"P":3.32},{"id":"r5c100","T":573.7,"P":3.55},{"id":"r5c100","T":595,"P":3.95},{"id":"r5c100","T":615.3,"P":4.35},{"id":"r5c100","T":635.6,"P":4.75},{"id":"r5c100","T":648,"P":5},
      {"id":"r5c150","T":567.7,"P":3.56},{"id":"r5c150","T":577.2,"P":3.75},{"id":"r5c150","T":596,"P":4.15},{"id":"r5c150","T":614.3,"P":4.55},{"id":"r5c150","T":631.9,"P":4.95},{"id":"r5c150","T":634.3,"P":5},
      {"id":"r5c200","T":590.6,"P":4.24},{"id":"r5c200","T":603,"P":4.55},{"id":"r5c200","T":618.2,"P":4.95},{"id":"r5c200","T":620.3,"P":5}
    ],
    "plainA": [
      {"label":"MsChlBt","T":525.7,"P":3.69},{"label":"MsSilBt","T":631.3,"P":3.69},{"label":"MsSilBtCrd","T":636.3,"P":3.4},{"label":"MsAndBt","T":591.1,"P":3.19},{"label":"MsAndBtCrd","T":579,"P":2.7},{"label":"MsBtCrd","T":583.2,"P":2.39},{"label":"KfsBtCrd","T":637.7,"P":2.26}
    ],
    "boxedA": [
      {"label":"MsChlBtGrt","T":555,"P":4.65},{"label":"MsStBtGrt","T":587.8,"P":4.79},{"label":"MsSilBtGrt","T":616.5,"P":4.39},{"label":"MsAnd BtGrt","T":581.1,"P":3.66},{"label":"100","T":550.2,"P":4.86},{"label":"200","T":561.5,"P":4.89},{"label":"100","T":579.5,"P":4.37},{"label":"200","T":617.5,"P":4.9},{"label":"100","T":632.5,"P":4.72}
    ],
    "rotA": [
      {"label":"MsKfsBtCrd","T":605.7,"P":2.32},{"label":"KfsAndBtCrd","T":636.3,"P":2.76}
    ],
    "circlesA": [
      {"label":"2","T":551.8,"P":4.14},{"label":"3","T":570,"P":4.49},{"label":"6","T":573.8,"P":4.1},{"label":"7","T":575.8,"P":3.89},{"label":"8","T":598.1,"P":4.02}
    ],
    "plainB": [
      {"label":"MsSilBtCrd","T":635.4,"P":3.4},{"label":"MsAndBtCrd","T":582.8,"P":2.72},{"label":"MsBtCrd","T":584.6,"P":2.41},{"label":"KfsBtCrd","T":633.9,"P":2.21}
    ],
    "boxedB": [
      {"label":"MsStBt","T":588.3,"P":4.81},{"label":"MsChlBt","T":542.2,"P":3.99},{"label":"MsSilBt","T":621.8,"P":4.16},{"label":"MsAndBt","T":585.1,"P":3.51}
    ],
    "rotB": [
      {"label":"MsKfsBtCrd","T":607.5,"P":2.37},{"label":"KfsAndBtCrd","T":638,"P":2.74}
    ],
    "assemblage": [
      {"label":"all+Qtz+Pl+Ilm+H₂O","T":567.1,"P":2.13}
    ]
  },
  "spacing": 22,
  "resolve": {"scale": {"x": "independent", "y": "independent", "color": "independent"}, "legend": {"color": "independent"}},
  "hconcat": [
    {
      "width": 426, "height": 425,
      "title": {"text": ["Equilibrium phase diagram and affinity", "of garnet formation with respect to matrix"]},
      "resolve": {"axis": {"x": "independent", "y": "independent"}},
      "layer": [
        {
          "data": {"name": "heatA"},
          "mark": {"type": "rect", "width": 7.4, "height": 14.6, "clip": true},
          "encoding": {
            "x": {"field": "T", "type": "quantitative", "scale": {"domain": [500, 650], "nice": false, "zero": false},
              "axis": {"orient": "bottom", "values": [500, 550, 600, 650], "tickSize": 10, "labelPadding": 3, "title": "𝑇 (°C)", "titlePadding": 2}},
            "y": {"field": "P", "type": "quantitative", "scale": {"domain": [2, 5], "nice": false, "zero": false},
              "axis": {"orient": "left", "values": [2, 2.5, 3, 3.5, 4, 4.5, 5], "format": ".0f", "tickSize": 10, "labelPadding": 3, "labelExpr": "datum.value % 1 === 0 ? datum.label : ''", "title": "𝑃 (kbar)", "titlePadding": 2}},
            "color": {"field": "A", "type": "quantitative",
              "scale": {"type": "linear", "domain": [308.7, 277.8, 246.9, 216.0, 185.2, 154.3, 123.4, 92.6, 61.7, 30.8, 0],
                "range": ["#fae93c", "#f8cb22", "#f4ae26", "#f0962e", "#e9782f", "#d8533a", "#c42d6e", "#b0318f", "#7d3a98", "#4a3595", "#2d2e8c"]},
              "legend": {"orient": "none", "legendX": 471, "legendY": 75, "direction": "vertical",
                "title": ["J mol⁻¹ oxygen", "in garnet", "(= molar A/12)"],
                "values": [0, 30.8, 61.7, 92.6, 123.4, 154.3, 185.2, 216.0, 246.9, 277.8, 308.7], "format": ".1f",
                "gradientLength": 285, "gradientThickness": 30, "gradientStrokeColor": "#231f20", "gradientStrokeWidth": 1,
                "labelFontSize": 14.5, "labelOffset": 8, "labelBaseline": "middle", "labelOverlap": false,
                "titleFontSize": 15.5, "titleFontWeight": "normal", "titleLineHeight": 20, "titleAlign": "center", "titleAnchor": "middle", "titlePadding": 8}}
          }
        },
        {
          "data": {"name": "outsideA"},
          "mark": {"type": "area", "orient": "horizontal", "fill": "white", "clip": true},
          "encoding": {
            "y": {"field": "P", "type": "quantitative", "scale": {"domain": [2, 5], "nice": false, "zero": false}, "axis": null},
            "x": {"field": "Tl", "type": "quantitative", "scale": {"domain": [500, 650], "nice": false, "zero": false}, "axis": null},
            "x2": {"field": "Tr"},
            "detail": {"field": "id"}
          }
        },
        {
          "data": {"name": "contoursA"},
          "mark": {"type": "line", "color": "white", "strokeWidth": 1.3, "clip": true},
          "encoding": {
            "x": {"field": "T", "type": "quantitative", "scale": {"domain": [500, 650], "nice": false, "zero": false},
              "axis": {"orient": "bottom", "values": [510, 520, 530, 540, 560, 570, 580, 590, 610, 620, 630, 640], "tickSize": 6, "labels": false, "title": null, "domain": false}},
            "y": {"field": "P", "type": "quantitative", "scale": {"domain": [2, 5], "nice": false, "zero": false},
              "axis": {"orient": "left", "values": [2.1, 2.2, 2.3, 2.4, 2.6, 2.7, 2.8, 2.9, 3.1, 3.2, 3.3, 3.4, 3.6, 3.7, 3.8, 3.9, 4.1, 4.2, 4.3, 4.4, 4.6, 4.7, 4.8, 4.9], "tickSize": 6, "labels": false, "title": null, "domain": false}},
            "detail": {"field": "id"},
            "order": {"value": null}
          }
        },
        {
          "data": {"name": "thinLines"},
          "mark": {"type": "line", "color": "#231f20", "strokeWidth": 1.1, "clip": true},
          "encoding": {
            "x": {"field": "T", "type": "quantitative", "scale": {"domain": [500, 650], "nice": false, "zero": false},
              "axis": {"orient": "top", "values": [500, 550, 600, 650], "tickSize": 10, "labels": false, "title": null}},
            "y": {"field": "P", "type": "quantitative", "scale": {"domain": [2, 5], "nice": false, "zero": false},
              "axis": {"orient": "right", "values": [2, 2.5, 3, 3.5, 4, 4.5, 5], "tickSize": 10, "labels": false, "title": null}},
            "detail": {"field": "id"},
            "order": {"value": null}
          }
        },
        {
          "data": {"name": "thickLines"},
          "mark": {"type": "line", "color": "#231f20", "strokeWidth": 1.7, "clip": true},
          "encoding": {
            "x": {"field": "T", "type": "quantitative", "scale": {"domain": [500, 650], "nice": false, "zero": false},
              "axis": {"orient": "top", "values": [510, 520, 530, 540, 560, 570, 580, 590, 610, 620, 630, 640], "tickSize": 6, "labels": false, "title": null, "domain": false}},
            "y": {"field": "P", "type": "quantitative", "scale": {"domain": [2, 5], "nice": false, "zero": false},
              "axis": {"orient": "right", "values": [2.1, 2.2, 2.3, 2.4, 2.6, 2.7, 2.8, 2.9, 3.1, 3.2, 3.3, 3.4, 3.6, 3.7, 3.8, 3.9, 4.1, 4.2, 4.3, 4.4, 4.6, 4.7, 4.8, 4.9], "tickSize": 6, "labels": false, "title": null, "domain": false}},
            "detail": {"field": "id"},
            "order": {"value": null}
          }
        },
        {
          "data": {"name": "garnetLines"},
          "transform": [{"filter": "datum.id !== 'gin' && (datum.id !== 'S2' || datum.P <= 3.94)"}],
          "mark": {"type": "line", "color": "#231f20", "strokeWidth": 1.2, "clip": true},
          "encoding": {
            "x": {"field": "T", "type": "quantitative", "scale": {"domain": [500, 650], "nice": false, "zero": false}, "axis": null},
            "y": {"field": "P", "type": "quantitative", "scale": {"domain": [2, 5], "nice": false, "zero": false}, "axis": null},
            "detail": {"field": "id"},
            "order": {"value": null}
          }
        },
        {
          "data": {"name": "garnetLines"},
          "transform": [{"filter": "datum.id === 'gin'"}],
          "mark": {"type": "line", "color": "#231f20", "strokeWidth": 1.9, "clip": true},
          "encoding": {
            "x": {"field": "T", "type": "quantitative", "scale": {"domain": [500, 650], "nice": false, "zero": false}, "axis": null},
            "y": {"field": "P", "type": "quantitative", "scale": {"domain": [2, 5], "nice": false, "zero": false}, "axis": null},
            "detail": {"field": "id"},
            "order": {"value": null}
          }
        },
        {
          "data": {"name": "plainA"},
          "mark": {"type": "text", "fontSize": 13.5, "align": "center", "baseline": "middle"},
          "encoding": {
            "x": {"field": "T", "type": "quantitative", "axis": null},
            "y": {"field": "P", "type": "quantitative", "axis": null},
            "text": {"field": "label"}
          }
        },
        {
          "data": {"name": "boxedA"},
          "mark": {"type": "rect", "fill": "white", "width": {"expr": "indexof(datum.label, ' ') > 0 ? 40 : 6.3 * length(datum.label) + 5"}, "height": {"expr": "indexof(datum.label, ' ') > 0 ? 31 : 15"}},
          "encoding": {
            "x": {"field": "T", "type": "quantitative", "axis": null},
            "y": {"field": "P", "type": "quantitative", "axis": null}
          }
        },
        {
          "data": {"name": "boxedA"},
          "mark": {"type": "text", "fontSize": 12.5, "align": "center", "baseline": "middle", "lineBreak": " ", "lineHeight": 15},
          "encoding": {
            "x": {"field": "T", "type": "quantitative", "axis": null},
            "y": {"field": "P", "type": "quantitative", "axis": null},
            "text": {"field": "label"}
          }
        },
        {
          "data": {"name": "rotA"},
          "mark": {"type": "text", "fontSize": 13.5, "align": "center", "baseline": "middle", "angle": 310},
          "encoding": {
            "x": {"field": "T", "type": "quantitative", "axis": null},
            "y": {"field": "P", "type": "quantitative", "axis": null},
            "text": {"field": "label"}
          }
        },
        {
          "data": {"name": "circlesA"},
          "mark": {"type": "point", "shape": "circle", "filled": true, "fill": "white", "stroke": "#231f20", "strokeWidth": 1.2, "size": 330, "opacity": 1},
          "encoding": {
            "x": {"field": "T", "type": "quantitative", "axis": null},
            "y": {"field": "P", "type": "quantitative", "axis": null}
          }
        },
        {
          "data": {"name": "circlesA"},
          "mark": {"type": "text", "fontSize": 14, "align": "center", "baseline": "middle"},
          "encoding": {
            "x": {"field": "T", "type": "quantitative", "axis": null},
            "y": {"field": "P", "type": "quantitative", "axis": null},
            "text": {"field": "label"}
          }
        },
        {
          "data": {"name": "assemblage"},
          "mark": {"type": "rect", "fill": "white", "stroke": "#231f20", "strokeWidth": 1, "width": 137, "height": 21},
          "encoding": {
            "x": {"field": "T", "type": "quantitative", "axis": null},
            "y": {"field": "P", "type": "quantitative", "axis": null}
          }
        },
        {
          "data": {"name": "assemblage"},
          "mark": {"type": "text", "fontSize": 13.5, "align": "center", "baseline": "middle"},
          "encoding": {
            "x": {"field": "T", "type": "quantitative", "axis": null},
            "y": {"field": "P", "type": "quantitative", "axis": null},
            "text": {"field": "label"}
          }
        },
        {
          "data": {"values": [{"tag": "(a)"}]},
          "mark": {"type": "text", "fontSize": 20, "fontWeight": "bold", "align": "left", "baseline": "alphabetic"},
          "encoding": {
            "x": {"datum": 481.3, "type": "quantitative", "axis": null},
            "y": {"datum": 5.318, "type": "quantitative", "axis": null},
            "text": {"field": "tag"}
          }
        },
        {
          "data": {"values": [{"tag": "⊕"}]},
          "mark": {"type": "text", "fontSize": 9, "align": "center", "baseline": "middle"},
          "encoding": {
            "x": {"datum": 498.2, "type": "quantitative", "axis": null},
            "y": {"datum": 5.035, "type": "quantitative", "axis": null},
            "text": {"field": "tag"}
          }
        }
      ]
    },
    {
      "width": 425, "height": 425,
      "title": {"text": ["Equilibrium phase diagram without garnet and", "entropy of garnet formation with respect to matrix"]},
      "resolve": {"axis": {"x": "independent", "y": "independent"}},
      "layer": [
        {
          "data": {"name": "regionsB"},
          "mark": {"type": "area", "orient": "horizontal", "clip": true, "opacity": 1},
          "encoding": {
            "y": {"field": "P", "type": "quantitative", "scale": {"domain": [2, 5], "nice": false, "zero": false},
              "axis": {"orient": "left", "values": [2, 2.5, 3, 3.5, 4, 4.5, 5], "format": ".0f", "tickSize": 10, "labelPadding": 3, "labelExpr": "datum.value % 1 === 0 ? datum.label : ''", "title": "𝑃 (kbar)", "titlePadding": 2}},
            "x": {"field": "Tl", "type": "quantitative", "scale": {"domain": [500, 650], "nice": false, "zero": false},
              "axis": {"orient": "bottom", "values": [500, 550, 600, 650], "tickSize": 10, "labelPadding": 3, "title": "𝑇 (°C)", "titlePadding": 2}},
            "x2": {"field": "Tr"},
            "detail": {"field": "id"},
            "color": {"field": "S", "type": "quantitative",
              "scale": {"type": "linear", "domain": [32.78, 27.46, 22.14, 16.82, 11.5, 6.17, 0.85, -4.46, -9.78, -15.1, -20.42],
                "range": ["#fae93c", "#f8cb22", "#f4ae26", "#f0962e", "#e9782f", "#d8533a", "#c42d6e", "#b0318f", "#7d3a98", "#4a3595", "#2d2e8c"]},
              "legend": {"orient": "none", "legendX": 454, "legendY": 75, "direction": "vertical",
                "title": ["J °C⁻¹ mol⁻¹ oxygen", "in garnet", "(= molar S/12)"],
                "values": [-20.42, -15.1, -9.78, -4.46, 0.85, 6.17, 11.5, 16.82, 22.14, 27.46, 32.78], "format": ".2f",
                "gradientLength": 285, "gradientThickness": 30, "gradientStrokeColor": "#231f20", "gradientStrokeWidth": 1,
                "labelFontSize": 14.5, "labelOffset": 8, "labelBaseline": "middle", "labelOverlap": false,
                "titleFontSize": 15.5, "titleFontWeight": "normal", "titleLineHeight": 20, "titleAlign": "center", "titleAnchor": "middle", "titlePadding": 8}}
          }
        },
        {
          "data": {"name": "thinLines"},
          "mark": {"type": "line", "color": "#231f20", "strokeWidth": 1.1, "clip": true},
          "encoding": {
            "x": {"field": "T", "type": "quantitative", "scale": {"domain": [500, 650], "nice": false, "zero": false},
              "axis": {"orient": "bottom", "values": [510, 520, 530, 540, 560, 570, 580, 590, 610, 620, 630, 640], "tickSize": 6, "labels": false, "title": null, "domain": false}},
            "y": {"field": "P", "type": "quantitative", "scale": {"domain": [2, 5], "nice": false, "zero": false},
              "axis": {"orient": "left", "values": [2.1, 2.2, 2.3, 2.4, 2.6, 2.7, 2.8, 2.9, 3.1, 3.2, 3.3, 3.4, 3.6, 3.7, 3.8, 3.9, 4.1, 4.2, 4.3, 4.4, 4.6, 4.7, 4.8, 4.9], "tickSize": 6, "labels": false, "title": null, "domain": false}},
            "detail": {"field": "id"},
            "order": {"value": null}
          }
        },
        {
          "data": {"name": "thickLines"},
          "mark": {"type": "line", "color": "#231f20", "strokeWidth": 1.7, "clip": true},
          "encoding": {
            "x": {"field": "T", "type": "quantitative", "scale": {"domain": [500, 650], "nice": false, "zero": false},
              "axis": {"orient": "top", "values": [500, 550, 600, 650], "tickSize": 10, "labels": false, "title": null}},
            "y": {"field": "P", "type": "quantitative", "scale": {"domain": [2, 5], "nice": false, "zero": false},
              "axis": {"orient": "right", "values": [2, 2.5, 3, 3.5, 4, 4.5, 5], "tickSize": 10, "labels": false, "title": null}},
            "detail": {"field": "id"},
            "order": {"value": null}
          }
        },
        {
          "data": {"name": "garnetLines"},
          "transform": [{"filter": "datum.id !== 'gin'"}],
          "mark": {"type": "line", "color": "#231f20", "strokeWidth": 1.1, "clip": true},
          "encoding": {
            "x": {"field": "T", "type": "quantitative", "scale": {"domain": [500, 650], "nice": false, "zero": false},
              "axis": {"orient": "top", "values": [510, 520, 530, 540, 560, 570, 580, 590, 610, 620, 630, 640], "tickSize": 6, "labels": false, "title": null, "domain": false}},
            "y": {"field": "P", "type": "quantitative", "scale": {"domain": [2, 5], "nice": false, "zero": false},
              "axis": {"orient": "right", "values": [2.1, 2.2, 2.3, 2.4, 2.6, 2.7, 2.8, 2.9, 3.1, 3.2, 3.3, 3.4, 3.6, 3.7, 3.8, 3.9, 4.1, 4.2, 4.3, 4.4, 4.6, 4.7, 4.8, 4.9], "tickSize": 6, "labels": false, "title": null, "domain": false}},
            "detail": {"field": "id"},
            "order": {"value": null}
          }
        },
        {
          "data": {"name": "plainB"},
          "mark": {"type": "text", "fontSize": 13.5, "align": "center", "baseline": "middle"},
          "encoding": {
            "x": {"field": "T", "type": "quantitative", "axis": null},
            "y": {"field": "P", "type": "quantitative", "axis": null},
            "text": {"field": "label"}
          }
        },
        {
          "data": {"name": "boxedB"},
          "mark": {"type": "rect", "fill": "white", "width": {"expr": "7 * length(datum.label) + 9"}, "height": 17},
          "encoding": {
            "x": {"field": "T", "type": "quantitative", "axis": null},
            "y": {"field": "P", "type": "quantitative", "axis": null}
          }
        },
        {
          "data": {"name": "boxedB"},
          "mark": {"type": "text", "fontSize": 13.5, "align": "center", "baseline": "middle"},
          "encoding": {
            "x": {"field": "T", "type": "quantitative", "axis": null},
            "y": {"field": "P", "type": "quantitative", "axis": null},
            "text": {"field": "label"}
          }
        },
        {
          "data": {"name": "rotB"},
          "mark": {"type": "text", "fontSize": 13.5, "align": "center", "baseline": "middle", "angle": 310},
          "encoding": {
            "x": {"field": "T", "type": "quantitative", "axis": null},
            "y": {"field": "P", "type": "quantitative", "axis": null},
            "text": {"field": "label"}
          }
        },
        {
          "data": {"name": "assemblage"},
          "mark": {"type": "rect", "fill": "white", "stroke": "#231f20", "strokeWidth": 1, "width": 137, "height": 21},
          "encoding": {
            "x": {"field": "T", "type": "quantitative", "axis": null},
            "y": {"field": "P", "type": "quantitative", "axis": null}
          }
        },
        {
          "data": {"name": "assemblage"},
          "mark": {"type": "text", "fontSize": 13.5, "align": "center", "baseline": "middle"},
          "encoding": {
            "x": {"field": "T", "type": "quantitative", "axis": null},
            "y": {"field": "P", "type": "quantitative", "axis": null},
            "text": {"field": "label"}
          }
        },
        {
          "data": {"values": [{"tag": "(b)"}]},
          "mark": {"type": "text", "fontSize": 20, "fontWeight": "bold", "align": "left", "baseline": "alphabetic"},
          "encoding": {
            "x": {"datum": 481.7, "type": "quantitative", "axis": null},
            "y": {"datum": 5.318, "type": "quantitative", "axis": null},
            "text": {"field": "tag"}
          }
        },
        {
          "data": {"values": [{"tag": "⊕"}]},
          "mark": {"type": "text", "fontSize": 9, "align": "center", "baseline": "middle"},
          "encoding": {
            "x": {"datum": 498.2, "type": "quantitative", "axis": null},
            "y": {"datum": 5.035, "type": "quantitative", "axis": null},
            "text": {"field": "tag"}
          }
        }
      ]
    }
  ]
}
